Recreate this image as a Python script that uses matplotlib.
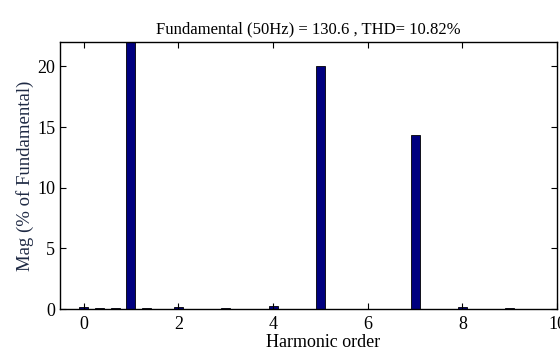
import matplotlib
matplotlib.use("Agg")
import matplotlib.pyplot as plt

# harmonic order (fft bins every 1/3 of fundamental) and magnitude in % of fundamental
harmonic = [0, 1/3, 2/3, 1, 4/3, 2, 3, 4, 5, 6, 7, 8, 9]
mag = [0.18, 0.1, 0.1, 100.0, 0.1, 0.2, 0.12, 0.22, 20.05, 0.03, 14.35, 0.2, 0.1]
xticks = [0, 2, 4, 6, 8, 10]
yticks = [0, 5, 10, 15, 20]

plt.rcParams['font.family'] = ['Liberation Serif', 'DejaVu Serif']

fig = plt.figure(figsize=(5.6, 3.54), dpi=100)
ax = fig.add_axes([0.107, 0.127, 0.888, 0.754])

ax.bar(harmonic, mag, width=0.19, color='#00007F', edgecolor='black', linewidth=0.6)

ax.set_xlim(-0.5, 10)
ax.set_ylim(0, 22)
ax.set_xticks(xticks)
ax.set_yticks(yticks)
ax.tick_params(direction='in', top=True, right=True, labelsize=13, length=4)
ax.tick_params(axis='x', pad=5)
for s in ax.spines.values():
    s.set_linewidth(1.0)

ax.set_title('Fundamental (50Hz) = 130.6 , THD= 10.82%', fontsize=12, pad=6)
ax.set_xlabel('Harmonic order', fontsize=13)
ax.xaxis.set_label_coords(0.53, -0.095)
ax.set_ylabel('Mag (% of Fundamental)', fontsize=13.5, color='#1f2a44', labelpad=2)

fig.savefig('out.png', dpi=100)
